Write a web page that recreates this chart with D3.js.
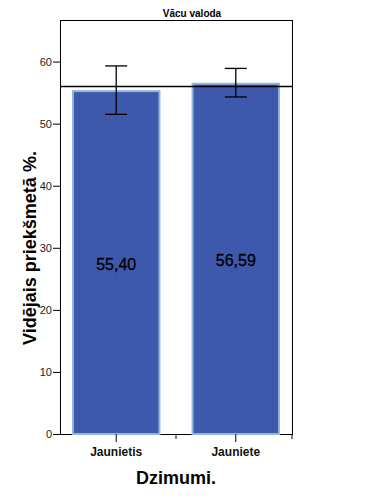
<!DOCTYPE html>
<html><head><meta charset="utf-8">
<script src="https://cdn.jsdelivr.net/npm/d3@7"></script>
<style>body{margin:0;background:#fff}svg{display:block}text{font-family:"Liberation Sans",Arial,sans-serif}</style>
</head><body><div id="c"></div>
<script>
const categories = ["Jaunietis", "Jauniete"];
const means = [55.40, 56.59];
const valueLabels = ["55,40", "56,59"];
const errLow = [51.5, 54.3];
const errHigh = [59.3, 58.9];
const refLine = 56.0;
const yTicks = [0, 10, 20, 30, 40, 50, 60];
const title = "Vācu valoda";
const yTitle = "Vidējais priekšmetā %.";
const xTitle = "Dzimumi.";

const W = 385, H = 502;
const L = 60, R = 292, T = 20, B = 434;
const svg = d3.select("#c").append("svg").attr("width", W).attr("height", H);

const x = d3.scaleBand().domain(categories).range([L, R]).paddingInner(0.26).paddingOuter(0.1);
const y = d3.scaleLinear().domain([0, 66.7]).range([B, T]);

// frame
svg.append("rect").attr("x", L).attr("y", T).attr("width", R - L).attr("height", B - T)
  .attr("fill", "none").attr("stroke", "#000").attr("stroke-width", 1).attr("shape-rendering", "crispEdges");

// bars
svg.selectAll("rect.bar").data(categories).enter().append("rect").attr("class", "bar")
  .attr("x", d => x(d) + 1).attr("width", x.bandwidth() - 2)
  .attr("y", (d, i) => y(means[i]) + 1).attr("height", (d, i) => B - y(means[i]) - 1)
  .attr("fill", "#3e58ab").attr("stroke", "#92b6e2").attr("stroke-width", 2);

// value labels
svg.selectAll("text.val").data(categories).enter().append("text")
  .attr("x", d => x(d) + x.bandwidth() / 2)
  .attr("y", (d, i) => (y(means[i]) + B) / 2 + 8)
  .attr("text-anchor", "middle").attr("font-size", 16).attr("fill", "#000")
  .attr("stroke", "#000").attr("stroke-width", 0.3)
  .text((d, i) => valueLabels[i]);

// reference line
svg.append("line").attr("x1", L).attr("x2", R).attr("y1", y(refLine)).attr("y2", y(refLine))
  .attr("stroke", "#000").attr("stroke-width", 1.5);

// error bars
const eb = svg.selectAll("g.eb").data(categories).enter().append("g").attr("stroke", "#000").attr("stroke-width", 1.3);
eb.append("line").attr("x1", d => x(d) + x.bandwidth() / 2).attr("x2", d => x(d) + x.bandwidth() / 2)
  .attr("y1", (d, i) => y(errLow[i])).attr("y2", (d, i) => y(errHigh[i]));
eb.append("line").attr("x1", d => x(d) + x.bandwidth() / 2 - 11).attr("x2", d => x(d) + x.bandwidth() / 2 + 11)
  .attr("y1", (d, i) => y(errLow[i])).attr("y2", (d, i) => y(errLow[i]));
eb.append("line").attr("x1", d => x(d) + x.bandwidth() / 2 - 11).attr("x2", d => x(d) + x.bandwidth() / 2 + 11)
  .attr("y1", (d, i) => y(errHigh[i])).attr("y2", (d, i) => y(errHigh[i]));

// y axis
const ya = svg.append("g").attr("transform", `translate(${L},0)`)
  .call(d3.axisLeft(y).tickValues(yTicks).tickSize(7).tickPadding(1).tickFormat(d3.format("d")));
ya.select(".domain").remove();
ya.selectAll("text").attr("font-size", 11).attr("fill", "#222").attr("font-family", "Liberation Sans, Arial, sans-serif");

// x axis
const xa = svg.append("g").attr("transform", `translate(0,${B})`)
  .call(d3.axisBottom(x).tickSize(8).tickPadding(3));
xa.select(".domain").remove();
xa.selectAll("text").attr("font-size", 12).attr("font-weight", "bold").attr("fill", "#111")
  .attr("font-family", "Liberation Sans, Arial, sans-serif").attr("dy", "0.95em");
// minor separators
svg.selectAll("line.sep").data([(x(categories[0]) + x.bandwidth() + x(categories[1])) / 2, R]).enter().append("line")
  .attr("x1", d => d).attr("x2", d => d).attr("y1", B).attr("y2", B + 5).attr("stroke", "#000");

// titles
svg.append("text").attr("x", 192).attr("y", 17).attr("text-anchor", "middle")
  .attr("font-size", 10).attr("font-weight", "bold").text(title);
svg.append("text").attr("transform", `translate(36,248) rotate(-90)`).attr("text-anchor", "middle")
  .attr("font-size", 18).attr("font-weight", "bold").text(yTitle);
svg.append("text").attr("x", 176).attr("y", 484).attr("text-anchor", "middle")
  .attr("font-size", 18).attr("font-weight", "bold").text(xTitle);
</script></body></html>
